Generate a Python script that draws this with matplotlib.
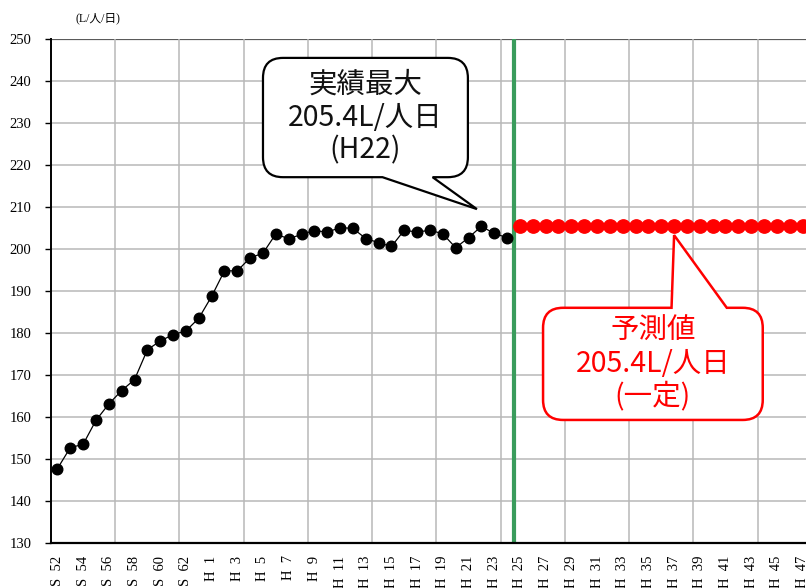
import matplotlib
matplotlib.use("Agg")
import matplotlib.pyplot as plt
from matplotlib.path import Path
from matplotlib.patches import PathPatch
from matplotlib.transforms import IdentityTransform
import numpy as np

# 年度ラベル (S52..S63, H1..H47)
years = [f"S  {y}" for y in range(52, 64)] + [f"H  {y}" for y in range(1, 48)]

# 一人一日平均給水量 実績 (S52..H24)
actual = [147.7, 152.7, 153.5, 159.2, 163.1, 166.3, 168.9, 176.0, 178.1, 179.6,
          180.5, 183.5, 188.7, 194.8, 194.8, 197.9, 199.0, 203.6, 202.4, 203.5,
          204.4, 204.0, 205.1, 204.9, 202.5, 201.5, 200.6, 204.5, 204.0, 204.5,
          203.6, 200.3, 202.7, 205.4, 203.7, 202.7]
# 予測値 (H25..H47, 一定)
forecast = [205.4] * 23

y_ticks = list(range(130, 251, 10))

W, H, DPI = 806, 588, 100
fig = plt.figure(figsize=(W / DPI, H / DPI), dpi=DPI)
ax_left, ax_right, ax_top, ax_bottom = 51, 809, 39, 543
ax = fig.add_axes([ax_left / W, (H - ax_bottom) / H,
                   (ax_right - ax_left) / W, (ax_bottom - ax_top) / H])

n = len(years)
x_all = np.arange(n)
x_act = x_all[:len(actual)]
x_fc = x_all[len(actual):len(actual) + len(forecast)]

ax.set_xlim(-0.5, n - 0.5)
ax.set_ylim(130, 250)

# grid
for v in y_ticks[1:]:
    col = "#5a5a5a" if v == 250 else "#b8b8b8"
    lw = 1.6 if v == 250 else 1.1
    ax.axhline(v, color=col, lw=lw, zorder=1)
for b in np.arange(4.5, n - 0.5, 5):
    ax.axvline(b, color="#b8b8b8", lw=1.1, zorder=1)

# 実績と予測の境界
ax.axvline(len(actual) - 0.5, color="#3a9c5c", lw=3.0, zorder=3)

ax.plot(x_act, actual, color="black", lw=0.9, marker="o", ms=7.6,
        mfc="black", mec="black", zorder=4)
ax.plot(x_fc, forecast, color="red", lw=0.9, marker="o", ms=9.6,
        mfc="red", mec="red", zorder=4)

# axes styling
for s in ("top", "right"):
    ax.spines[s].set_visible(False)
ax.spines["left"].set_linewidth(1.4)
ax.spines["bottom"].set_linewidth(1.6)
ax.spines["left"].set_zorder(5)
ax.spines["bottom"].set_zorder(5)

ax.set_yticks(y_ticks)
ax.set_yticklabels([str(v) for v in y_ticks], family="Liberation Serif",
                   fontsize=10.5)
ax.tick_params(axis="y", length=4, width=1, pad=10, colors="black")

ax.set_xticks(x_all[::2])
ax.set_xticklabels(years[::2], rotation=90, family="Liberation Serif",
                   fontsize=10.5, va="top", ha="center")
ax.tick_params(axis="x", length=0, pad=9)

fig.text(75 / W, 1 - 18 / H, "(L/人/日)", family=["Liberation Serif", "Noto Sans CJK JP"],
         fontsize=8.5, va="center", ha="left")


def bubble(box, tail, tip, edge, r, ec, lw):
    """Speech bubble path in display coordinates."""
    to_disp = ax.transData.transform
    (x0, y0), (x1, y1) = to_disp([(box[0], box[1]), (box[2], box[3])])
    bx0 = to_disp((tail[0], box[1]))[0]
    bx1 = to_disp((tail[1], box[1]))[0]
    tx, ty = to_disp(tip)
    verts, codes = [], []

    def mv(p):
        verts.append(p); codes.append(Path.MOVETO)

    def ln(p):
        verts.append(p); codes.append(Path.LINETO)

    def cv(c, p):
        verts.extend([c, p]); codes.extend([Path.CURVE3, Path.CURVE3])

    mv((x0 + r, y1))
    if edge == "top":
        ln((bx0, y1)); ln((tx, ty)); ln((bx1, y1))
    ln((x1 - r, y1)); cv((x1, y1), (x1, y1 - r))
    ln((x1, y0 + r)); cv((x1, y0), (x1 - r, y0))
    if edge == "bottom":
        ln((bx1, y0)); ln((tx, ty)); ln((bx0, y0))
    ln((x0 + r, y0)); cv((x0, y0), (x0, y0 + r))
    ln((x0, y1 - r)); cv((x0, y1), (x0 + r, y1))
    verts.append((x0 + r, y1)); codes.append(Path.CLOSEPOLY)
    patch = PathPatch(Path(verts, codes), facecolor="white", edgecolor=ec,
                      lw=lw, transform=IdentityTransform(), zorder=6,
                      joinstyle="miter", clip_on=False)
    ax.add_artist(patch)


fig.canvas.draw()

peak_idx = int(np.argmax(actual))
bubble((16.0, 217.1, 31.95, 245.5), (25.3, 29.2), (32.65, 209.5),
       "bottom", 20, "black", 1.6)
ax.text(23.97, 231.3, f"実績最大\n{actual[peak_idx]:.1f}L/人日\n(H22)",
        family=["Noto Sans CJK JP", "DejaVu Sans"], fontsize=20.5, ha="center",
        va="center", linespacing=1.12, color="#111111", zorder=7)

fc_idx = 48
bubble((37.8, 159.3, 54.9, 186.0), (47.8, 52.1), (fc_idx, forecast[0] - 2.1),
       "top", 20, "red", 1.8)
ax.text(46.35, 172.6, f"予測値\n{forecast[0]:.1f}L/人日\n(一定)",
        family=["Noto Sans CJK JP", "DejaVu Sans"], fontsize=20.5, ha="center",
        va="center", linespacing=1.12, color="red", zorder=7)

fig.savefig("out.png", dpi=DPI)
